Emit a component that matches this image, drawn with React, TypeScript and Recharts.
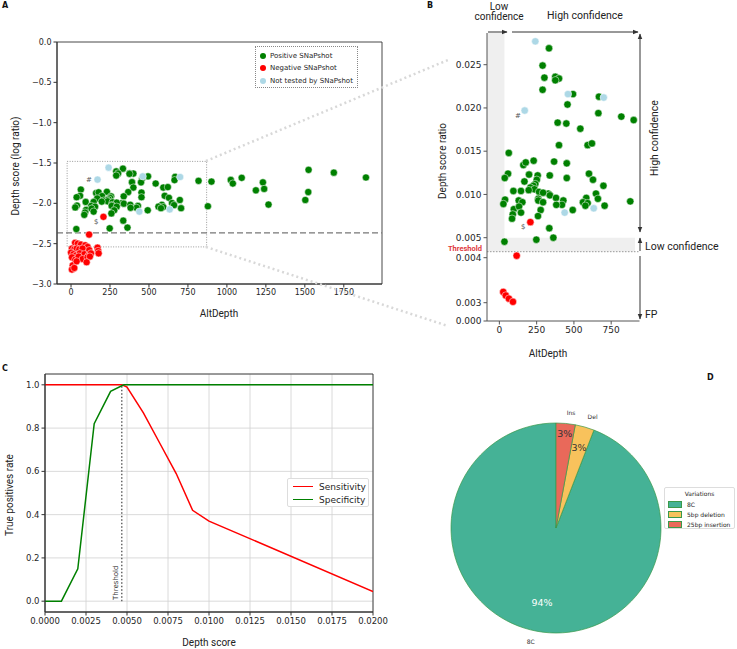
import React from 'react';
import {
  ScatterChart, Scatter, LineChart, Line, PieChart, Pie, Cell,
  XAxis, YAxis, CartesianGrid, ReferenceArea, ReferenceLine, Legend,
} from 'recharts';

// AltDepth vs depth score ratio, split by SNaPshot result
const positiveSnapshot = [
  { depth: 333, ratio: 0.0269 }, { depth: 290, ratio: 0.0249 }, { depth: 302, ratio: 0.0235 },
  { depth: 375, ratio: 0.0236 }, { depth: 400, ratio: 0.0234 }, { depth: 375, ratio: 0.0232 },
  { depth: 290, ratio: 0.0221 }, { depth: 494, ratio: 0.0216 }, { depth: 457, ratio: 0.0204 },
  { depth: 668, ratio: 0.0213 }, { depth: 664, ratio: 0.0194 }, { depth: 818, ratio: 0.0190 },
  { depth: 901, ratio: 0.0186 }, { depth: 391, ratio: 0.0183 }, { depth: 449, ratio: 0.0182 },
  { depth: 543, ratio: 0.0176 }, { depth: 400, ratio: 0.0157 }, { depth: 592, ratio: 0.0157 },
  { depth: 621, ratio: 0.0159 }, { depth: 63, ratio: 0.0148 }, { depth: 161, ratio: 0.0134 },
  { depth: 177, ratio: 0.0137 }, { depth: 230, ratio: 0.0139 }, { depth: 367, ratio: 0.0138 },
  { depth: 452, ratio: 0.0136 }, { depth: 58, ratio: 0.0124 }, { depth: 36, ratio: 0.0119 },
  { depth: 199, ratio: 0.0123 }, { depth: 257, ratio: 0.0122 }, { depth: 338, ratio: 0.0122 },
  { depth: 601, ratio: 0.0124 }, { depth: 628, ratio: 0.0117 }, { depth: 452, ratio: 0.0119 },
  { depth: 168, ratio: 0.0115 }, { depth: 251, ratio: 0.0117 }, { depth: 241, ratio: 0.0112 },
  { depth: 228, ratio: 0.0110 }, { depth: 208, ratio: 0.0108 }, { depth: 235, ratio: 0.0106 },
  { depth: 698, ratio: 0.0110 }, { depth: 94, ratio: 0.0104 }, { depth: 145, ratio: 0.0104 },
  { depth: 197, ratio: 0.0105 }, { depth: 328, ratio: 0.0101 }, { depth: 339, ratio: 0.0099 },
  { depth: 266, ratio: 0.0103 }, { depth: 293, ratio: 0.0102 }, { depth: 38, ratio: 0.0094 },
  { depth: 27, ratio: 0.0089 }, { depth: 130, ratio: 0.0093 }, { depth: 154, ratio: 0.0091 },
  { depth: 261, ratio: 0.0095 }, { depth: 261, ratio: 0.0093 }, { depth: 293, ratio: 0.0091 },
  { depth: 380, ratio: 0.0096 }, { depth: 429, ratio: 0.0093 }, { depth: 420, ratio: 0.0088 },
  { depth: 382, ratio: 0.0088 }, { depth: 583, ratio: 0.0096 }, { depth: 561, ratio: 0.0091 },
  { depth: 592, ratio: 0.0090 }, { depth: 577, ratio: 0.0087 }, { depth: 648, ratio: 0.0101 },
  { depth: 661, ratio: 0.0095 }, { depth: 706, ratio: 0.0087 }, { depth: 878, ratio: 0.0092 },
  { depth: 97, ratio: 0.0083 }, { depth: 132, ratio: 0.0086 }, { depth: 145, ratio: 0.0079 },
  { depth: 90, ratio: 0.0077 }, { depth: 85, ratio: 0.0072 }, { depth: 277, ratio: 0.0082 },
  { depth: 492, ratio: 0.0082 }, { depth: 259, ratio: 0.0075 }, { depth: 335, ratio: 0.0061 },
  { depth: 34, ratio: 0.0048 }, { depth: 248, ratio: 0.0049 }, { depth: 362, ratio: 0.0050 },
  { depth: 1025, ratio: 0.0195 }, { depth: 1038, ratio: 0.0176 }, { depth: 1095, ratio: 0.0207 },
  { depth: 1186, ratio: 0.0145 }, { depth: 1231, ratio: 0.0182 }, { depth: 1239, ratio: 0.0151 },
  { depth: 1267, ratio: 0.00966 }, { depth: 1503, ratio: 0.0110 }, { depth: 1524, ratio: 0.0260 },
  { depth: 1522, ratio: 0.0138 }, { depth: 1686, ratio: 0.0240 }, { depth: 1892, ratio: 0.0209 },
];

const negativeSnapshot = [
  { depth: 208, ratio: 0.0068 }, { depth: 116, ratio: 0.0041 }, { depth: 26, ratio: 0.00324 },
  { depth: 43, ratio: 0.00316 }, { depth: 64, ratio: 0.00309 }, { depth: 91, ratio: 0.00302 },
  { depth: 106, ratio: 0.00288 }, { depth: 6, ratio: 0.00275 }, { depth: 21, ratio: 0.00269 },
  { depth: 36, ratio: 0.00275 }, { depth: 53, ratio: 0.00269 }, { depth: 74, ratio: 0.00275 },
  { depth: 117, ratio: 0.00263 }, { depth: 170, ratio: 0.00282 }, { depth: 174, ratio: 0.00257 },
  { depth: 177, ratio: 0.0024 }, { depth: 0, ratio: 0.00245 }, { depth: 15, ratio: 0.00234 },
  { depth: 32, ratio: 0.00226 }, { depth: 57, ratio: 0.0024 }, { depth: 85, ratio: 0.00234 },
  { depth: 113, ratio: 0.00226 }, { depth: 128, ratio: 0.0024 }, { depth: 6, ratio: 0.00214 },
  { depth: 27, ratio: 0.002 }, { depth: 49, ratio: 0.00219 }, { depth: 74, ratio: 0.00204 },
  { depth: 106, ratio: 0.00214 }, { depth: 121, ratio: 0.00219 }, { depth: 11, ratio: 0.0017 },
  { depth: 36, ratio: 0.00191 }, { depth: 100, ratio: 0.00186 }, { depth: 6, ratio: 0.00151 },
  { depth: 21, ratio: 0.00158 },
];

const notTested = [
  { depth: 241, ratio: 0.0277 }, { depth: 460, ratio: 0.0216 }, { depth: 700, ratio: 0.0212 },
  { depth: 170, ratio: 0.0197 }, { depth: 438, ratio: 0.0079 }, { depth: 633, ratio: 0.0084 },
];

const thresholdRatio = 0.0043;

// sensitivity / specificity vs depth score
const sensitivityCurve = [
  { score: 0, rate: 1 }, { score: 0.0047, rate: 1 }, { score: 0.005, rate: 0.99 },
  { score: 0.006, rate: 0.87 }, { score: 0.007, rate: 0.73 }, { score: 0.008, rate: 0.59 },
  { score: 0.009, rate: 0.42 }, { score: 0.01, rate: 0.37 }, { score: 0.02, rate: 0.045 },
];
const specificityCurve = [
  { score: 0, rate: 0 }, { score: 0.001, rate: 0 }, { score: 0.002, rate: 0.15 },
  { score: 0.003, rate: 0.82 }, { score: 0.004, rate: 0.97 }, { score: 0.0048, rate: 1 },
  { score: 0.02, rate: 1 },
];
const thresholdScore = 0.00468;

// variation types
const variationNames = ['8C', '5bp deletion', '25bp insertion'];
const variationShort = ['8C', 'Del', 'Ins'];
const variationCounts = [32, 1, 1];

const altDepthTicksA = [0, 250, 500, 750, 1000, 1250, 1500, 1750];
const logTicksA = [0, -0.5, -1, -1.5, -2, -2.5, -3];
const altDepthTicksB = [0, 250, 500, 750];
const ratioTicksB = [0, 0.003, 0.004, 0.005, 0.01, 0.015, 0.02, 0.025];
const scoreTicks = [0, 0.0025, 0.005, 0.0075, 0.01, 0.0125, 0.015, 0.0175, 0.02];
const rateTicks = [0, 0.2, 0.4, 0.6, 0.8, 1];

const GREEN = '#008000';
const RED = '#ff0000';
const LIGHTBLUE = '#add8e6';
const pieColors = ['#45b296', '#f8c25c', '#e9695a'];
const pctDistance = [0.72, 0.8, 0.9];

const TICK_FONT = 'DejaVu Sans, sans-serif';
const LABEL_FONT = 'Roboto, sans-serif';

// panel B uses a broken y axis: piecewise linear between these ratios
const breakRatios = [0, 0.003, 0.004, 0.005, 0.025];
const breakOffsets = [0, 18.3, 63.3, 83.3, 256.3];
const brokenScale = (v: number) => {
  const n = breakRatios.length;
  for (let i = 1; i < n; i++) {
    if (v <= breakRatios[i] || i === n - 1) {
      const t = (v - breakRatios[i - 1]) / (breakRatios[i] - breakRatios[i - 1]);
      return breakOffsets[i - 1] + t * (breakOffsets[i] - breakOffsets[i - 1]);
    }
  }
  return 0;
};
const brokenTicks = ratioTicksB.map(brokenScale);

const toLog = (pts: { depth: number; ratio: number }[]) =>
  pts.map(p => ({ x: p.depth, y: Math.log10(p.ratio) }));
const toZoom = (pts: { depth: number; ratio: number }[]) =>
  pts.filter(p => p.depth <= 940 && p.ratio >= 0.00295).map(p => ({ x: p.depth, y: brokenScale(p.ratio) }));

const dot = (fill: string, r: number) => (p: any) =>
  <circle cx={p.cx} cy={p.cy} r={r} fill={fill} stroke="#fff" strokeWidth={0.5} />;

const minusFmt = (v: number) => (v < 0 ? '\u2212' + Math.abs(v).toFixed(1) : v.toFixed(1));

const tickStyle = (size: number) => ({ fontSize: size, fill: '#262626', fontFamily: TICK_FONT });

const LegendA = () => (
  <div style={{ border: '1px dotted #888', background: '#fff', width: 103, height: 42, fontFamily: TICK_FONT, fontSize: 7, color: '#262626', boxSizing: 'border-box', padding: '3px 0 0 4px', whiteSpace: 'nowrap' }}>
    {[['Positive SNaPshot', GREEN], ['Negative SNaPshot', RED], ['Not tested by SNaPshot', LIGHTBLUE]].map(([t, c]) => (
      <div key={t} style={{ display: 'flex', alignItems: 'center', height: 12.3 }}>
        <span style={{ width: 6, height: 6, borderRadius: 3, background: c, marginRight: 4, display: 'inline-block', flex: 'none' }} />
        {t}
      </div>
    ))}
  </div>
);

const LegendC = () => (
  <div style={{ border: '1px solid #ddd', borderRadius: 2, background: '#fff', width: 82, height: 29, fontFamily: TICK_FONT, fontSize: 9, color: '#262626', boxSizing: 'border-box', padding: '1px 0 0 5px', whiteSpace: 'nowrap' }}>
    {[['Sensitivity', RED], ['Specificity', GREEN]].map(([t, c]) => (
      <div key={t} style={{ display: 'flex', alignItems: 'center', height: 13 }}>
        <span style={{ width: 20, height: 1.5, background: c, marginRight: 6, display: 'inline-block', flex: 'none' }} />
        {t}
      </div>
    ))}
  </div>
);

const LegendD = () => (
  <div style={{ border: '1px solid #ddd', borderRadius: 2, background: '#fff', width: 71, height: 42, fontFamily: TICK_FONT, fontSize: 6, color: '#262626', boxSizing: 'border-box', padding: '1px 0 0 3px', whiteSpace: 'nowrap' }}>
    <div style={{ textAlign: 'center', height: 10, lineHeight: '10px', marginLeft: -3 }}>Variations</div>
    {variationNames.map((t, i) => (
      <div key={t} style={{ display: 'flex', alignItems: 'center', height: 10.3 }}>
        <span style={{ width: 12, height: 5, background: pieColors[i], border: '0.6px solid #3a9a4a', marginRight: 5, display: 'inline-block', flex: 'none' }} />
        {t}
      </div>
    ))}
  </div>
);

const RAD = Math.PI / 180;
const renderPieLabel = (p: any) => {
  const { cx, cy, midAngle, outerRadius, percent, index } = p;
  const cos = Math.cos(-midAngle * RAD);
  const sin = Math.sin(-midAngle * RAD);
  const lr = outerRadius * 1.1;
  const pr = outerRadius * pctDistance[index];
  return (
    <g key={`lbl-${index}`}>
      <text x={cx + lr * cos} y={cy + lr * sin} textAnchor={cos >= 0 ? 'start' : 'end'} dominantBaseline="central"
        fontSize={6} fill="#333" fontFamily={TICK_FONT}>{variationShort[index]}</text>
      <text x={cx + pr * cos} y={cy + pr * sin} textAnchor="middle" dominantBaseline="central"
        fontSize={9.5} fill={index === 0 ? '#fff' : '#333'} fontFamily={TICK_FONT}>{`${Math.round(percent * 100)}%`}</text>
    </g>
  );
};

const abs = (left: number, top: number): React.CSSProperties => ({ position: 'absolute', left, top });

export default function App() {
  const thrLog = Math.log10(thresholdRatio);
  const thrB = brokenScale(thresholdRatio);
  const pieData = variationNames.map((name, i) => ({ name, count: variationCounts[i] }));

  return (
    <div style={{ position: 'absolute', left: 0, top: 0, width: 737, height: 649, background: '#fff', overflow: 'hidden' }}>
      {/* A: log ratio overview */}
      <div style={abs(0, 0)}>
        <ScatterChart width={390} height={330} margin={{ top: 42, right: 8, left: 0, bottom: 0 }}>
          <XAxis type="number" dataKey="x" domain={[-90, 1995]} ticks={altDepthTicksA} allowDataOverflow interval={0}
            height={46} tickSize={3.5} tickMargin={2} tick={tickStyle(8)} stroke="#333" />
          <YAxis type="number" dataKey="y" domain={[-3, 0]} ticks={logTicksA} allowDataOverflow interval={0}
            width={57} tickSize={3.5} tickMargin={2} tick={tickStyle(8)} tickFormatter={minusFmt} stroke="#333" />
          <ReferenceArea x1={-90} x2={1995} y1={-3} y2={0} fill="none" stroke="#333" strokeWidth={0.9} />
          <ReferenceArea x1={-25} x2={870} y1={-2.54} y2={-1.48} fill="none" stroke="#999" strokeDasharray="1 1.5" />
          <ReferenceLine y={thrLog} stroke="#777" strokeWidth={1.2} strokeDasharray="6 3" />
          <Scatter data={toLog(positiveSnapshot)} isAnimationActive={false} shape={dot(GREEN, 3.6)} />
          <Scatter data={toLog(negativeSnapshot)} isAnimationActive={false} shape={dot(RED, 3.6)} />
          <Scatter data={toLog(notTested)} isAnimationActive={false} shape={dot(LIGHTBLUE, 3.6)} />
          <Legend layout="vertical" align="center" verticalAlign="middle" content={LegendA}
            wrapperStyle={{ left: 255, top: 46, width: 103, height: 42 }} />
        </ScatterChart>
      </div>

      {/* B: zoom on depth score ratio */}
      <div style={abs(420, 0)}>
        <ScatterChart width={222} height={345} margin={{ top: 33, right: 2.5, left: 0, bottom: 0 }}>
          <XAxis type="number" dataKey="x" domain={[-83, 940]} ticks={altDepthTicksB} allowDataOverflow interval={0}
            height={24} tickSize={3.5} tickMargin={2} tick={tickStyle(9)} stroke="#555" />
          <YAxis type="number" dataKey="y" domain={[0, 288]} ticks={brokenTicks} allowDataOverflow interval={0}
            width={67} tickSize={3.5} tickMargin={2} tick={tickStyle(9)} stroke="#555"
            tickFormatter={(u: number) => {
              const i = brokenTicks.findIndex(t => Math.abs(t - u) < 1e-6);
              return i >= 0 ? ratioTicksB[i].toFixed(3) : '';
            }} />
          <ReferenceArea x1={-83} x2={34} y1={thrB} y2={288} fill="#efefef" fillOpacity={1} stroke="none" />
          <ReferenceArea x1={34} x2={910} y1={thrB} y2={brokenScale(0.005)} fill="#efefef" fillOpacity={1} stroke="none" />
          <ReferenceLine y={thrB} stroke="#999" strokeDasharray="1.5 1.5" />
          <Scatter data={toZoom(positiveSnapshot)} isAnimationActive={false} shape={dot(GREEN, 3.7)} />
          <Scatter data={toZoom(negativeSnapshot)} isAnimationActive={false} shape={dot(RED, 3.7)} />
          <Scatter data={toZoom(notTested)} isAnimationActive={false} shape={dot(LIGHTBLUE, 3.7)} />
        </ScatterChart>
      </div>

      {/* C: sensitivity / specificity */}
      <div style={abs(0, 360)}>
        <LineChart width={400} height={289} margin={{ top: 14, right: 27, left: 0, bottom: 0 }}>
          <CartesianGrid stroke="#d0d0d0" strokeWidth={0.8} />
          <XAxis type="number" dataKey="score" domain={[0, 0.02]} ticks={scoreTicks} allowDataOverflow interval={0}
            height={37} tickSize={3.5} tickMargin={2} tick={tickStyle(8.5)} tickFormatter={(v: number) => v.toFixed(4)} stroke="#333" />
          <YAxis type="number" dataKey="rate" domain={[-0.05, 1.05]} ticks={rateTicks} allowDataOverflow interval={0}
            width={45} tickSize={3.5} tickMargin={2} tick={tickStyle(8.5)} tickFormatter={(v: number) => v.toFixed(1)} stroke="#333" />
          <ReferenceArea x1={0} x2={0.02} y1={-0.05} y2={1.05} fill="none" stroke="#333" strokeWidth={0.9} />
          <ReferenceLine segment={[{ x: thresholdScore, y: 0 }, { x: thresholdScore, y: 1 }]} stroke="#666" strokeWidth={1.5} strokeDasharray="1.5 2" />
          <Line data={sensitivityCurve} dataKey="rate" type="linear" stroke={RED} strokeWidth={1.5} dot={false} isAnimationActive={false} />
          <Line data={specificityCurve} dataKey="rate" type="linear" stroke={GREEN} strokeWidth={1.5} dot={false} isAnimationActive={false} />
          <Legend layout="vertical" align="center" verticalAlign="middle" content={LegendC}
            wrapperStyle={{ left: 287, top: 118, width: 82, height: 29 }} />
        </LineChart>
      </div>

      {/* D: variation types */}
      <div style={abs(440, 400)}>
        <PieChart width={297} height={249}>
          <Pie data={pieData} dataKey="count" nameKey="name" cx={111} cy={123} outerRadius={105}
            startAngle={90} endAngle={450} stroke="#3a9a4a" strokeWidth={0.7}
            label={renderPieLabel} labelLine={false} isAnimationActive={false}>
            {pieData.map((d, i) => <Cell key={d.name} fill={pieColors[i]} />)}
          </Pie>
          <Legend layout="vertical" align="center" verticalAlign="middle" content={LegendD}
            wrapperStyle={{ left: 224, top: 87, width: 71, height: 42 }} />
        </PieChart>
      </div>

      {/* titles and annotations */}
      <svg width={737} height={649} style={{ position: 'absolute', left: 0, top: 0, pointerEvents: 'none' }}>
        <defs>
          <marker id="arr" viewBox="0 0 10 10" refX="9" refY="5" markerWidth="6" markerHeight="6" orient="auto-start-reverse">
            <path d="M0,1 L10,5 L0,9 z" fill="#333" />
          </marker>
        </defs>
        <g fontFamily={TICK_FONT} fontWeight="bold" fontSize={8} fill="#111">
          <text x={2} y={8}>A</text>
          <text x={427} y={8}>B</text>
          <text x={2} y={371}>C</text>
          <text x={707} y={380}>D</text>
        </g>
        <line x1={206} y1={161} x2={448} y2={60} stroke="#d8d8d8" strokeWidth={2.5} strokeDasharray="2 3" />
        <line x1={206} y1={247} x2={448} y2={326} stroke="#d8d8d8" strokeWidth={2.5} strokeDasharray="2 3" />

        <g fontFamily={LABEL_FONT} fill="#222">
          <text x={19} y={166} fontSize={10} textAnchor="middle" transform="rotate(-90 19 166)">Depth score (log ratio)</text>
          <text x={219} y={317} fontSize={10} textAnchor="middle">AltDepth</text>
          <text x={446} y={161} fontSize={10} textAnchor="middle" transform="rotate(-90 446 161)">Depth score ratio</text>
          <text x={548} y={357} fontSize={10} textAnchor="middle">AltDepth</text>
          <text x={13} y={495} fontSize={10} textAnchor="middle" transform="rotate(-90 13 495)">True positives rate</text>
          <text x={209} y={646} fontSize={10} textAnchor="middle">Depth score</text>

          <text x={499} y={9.5} fontSize={10} textAnchor="middle">Low</text>
          <text x={499} y={20} fontSize={10} textAnchor="middle">confidence</text>
          <text x={585} y={19} fontSize={10.5} textAnchor="middle">High confidence</text>
          <text x={658} y={138} fontSize={10.5} textAnchor="middle" transform="rotate(-90 658 138)">High confidence</text>
          <text x={645} y={250} fontSize={10.5}>Low confidence</text>
          <text x={645} y={318} fontSize={10.5}>FP</text>
        </g>
        <text x={482} y={251} fontFamily={LABEL_FONT} fontWeight="bold" fontSize={7.5} fill="#e0393e" textAnchor="end">Threshold</text>
        <text x={118} y={600} fontFamily={TICK_FONT} fontSize={7} fill="#333" transform="rotate(-90 118 600)">Threshold</text>

        <g fontFamily={TICK_FONT} fontSize={7} fill="#555">
          <text x={86} y={182}>#</text>
          <text x={94} y={224}>$</text>
          <text x={515} y={118}>#</text>
          <text x={521} y={229}>$</text>
        </g>

        <g stroke="#333" strokeWidth={1}>
          <line x1={488} y1={32} x2={507} y2={32} markerEnd="url(#arr)" />
          <line x1={512} y1={32} x2={638} y2={32} markerEnd="url(#arr)" />
          <line x1={640} y1={232} x2={640} y2={34} markerEnd="url(#arr)" markerStart="url(#arr)" />
          <line x1={640} y1={251} x2={640} y2={238} markerEnd="url(#arr)" />
          <line x1={640} y1={256} x2={640} y2={319} markerEnd="url(#arr)" />
        </g>
      </svg>
    </div>
  );
}
